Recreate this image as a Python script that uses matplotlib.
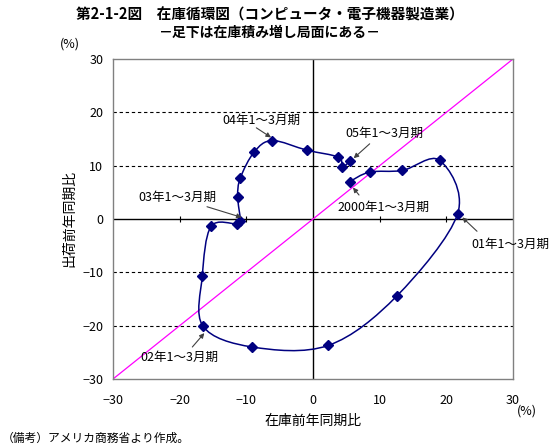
import matplotlib
matplotlib.use('Agg')
import matplotlib.pyplot as plt
from matplotlib.path import Path
from matplotlib.patches import PathPatch
import numpy as np

plt.rcParams['font.family'] = ['Noto Sans CJK JP', 'DejaVu Sans']

# 在庫前年同期比 (x), 出荷前年同期比 (y): 2000年1～3月期 .. 05年1～3月期
inventory = [5.5, 8.5, 13.4, 19.0,
             21.7, 12.6, 2.3, -9.1,
             -16.5, -16.6, -15.3, -11.4,
             -10.9, -11.3, -10.9, -8.8,
             -6.1, -0.9, 3.8, 4.4,
             5.5]
shipments = [7.0, 8.8, 9.1, 11.0,
             1.0, -14.4, -23.7, -24.0,
             -20.1, -10.6, -1.4, -0.9,
             -0.3, 4.2, 7.7, 12.6,
             14.7, 12.9, 11.6, 9.8,
             10.8]
ticks = [-30, -20, -10, 0, 10, 20, 30]
grid_y = [-20, -10, 10, 20]

# label, text position, arrow tail, arrow head
labels = [
    ('2000年1～3月期', (10.6, 2.1), (6.9, 4.5), (6.0, 5.9)),
    ('01年1～3月期', (29.6, -4.7), (24.6, -2.3), (22.4, 0.3)),
    ('02年1～3月期', (-20.0, -25.9), (-18.1, -24.0), (-16.3, -21.4)),
    ('03年1～3月期', (-20.4, 4.1), (-15.9, 2.3), (-10.7, 0.3)),
    ('04年1～3月期', (-7.7, 18.4), (-8.5, 17.1), (-6.3, 15.3)),
    ('05年1～3月期', (10.7, 16.1), (8.5, 14.1), (6.1, 11.4)),
]

fig = plt.figure(figsize=(5.53, 4.47), dpi=100)
ax = fig.add_axes([113/553, 1 - 379/447, 400/553, 320/447])
ax.set_xlim(-30, 30)
ax.set_ylim(-30, 30)

for s in ax.spines.values():
    s.set_color('#808080')
    s.set_linewidth(1.0)

ax.set_xticks(ticks)
ax.set_yticks(ticks)
ax.tick_params(length=0, labelsize=9, pad=7)
ax.tick_params(axis='x', pad=11)

for g in grid_y:
    ax.axhline(g, color='black', lw=0.8, ls=(0, (3, 2.5)), zorder=1)
ax.axhline(0, color='black', lw=1.0, zorder=1)
ax.axvline(0, color='black', lw=1.0, zorder=1)
# small tick marks on the zero lines
tk = [t for t in ticks if t not in (-30, 0, 30)]
ax.plot(tk, [0] * len(tk), ls='none', marker='|', color='black', ms=4, mew=0.8, zorder=1)
ax.plot([0] * len(tk), tk, ls='none', marker='_', color='black', ms=4, mew=0.8, zorder=1)

# 45 degree line
ax.plot([-30, 30], [-30, 30], color='#FF00FF', lw=0.9, zorder=2)

# smoothed line (Catmull-Rom as cubic Bezier)
pts = np.column_stack([inventory, shipments])
n = len(pts)
verts = [pts[0]]
codes = [Path.MOVETO]
for i in range(n - 1):
    p0 = pts[max(i - 1, 0)]
    p1 = pts[i]
    p2 = pts[i + 1]
    p3 = pts[min(i + 2, n - 1)]
    c1 = p1 + (p2 - p0) / 6
    c2 = p2 - (p3 - p1) / 6
    verts += [c1, c2, p2]
    codes += [Path.CURVE4] * 3
ax.add_patch(PathPatch(Path(verts, codes), facecolor='none',
                       edgecolor='#000080', lw=1.1, zorder=3))
ax.plot(inventory, shipments, ls='none', marker='D', ms=5,
        color='#000080', zorder=4)

for text, tpos, tail, head in labels:
    ax.text(tpos[0], tpos[1], text, fontsize=9, ha='center', va='center',
            clip_on=False, zorder=5)
    ax.annotate('', xy=head, xytext=tail,
                arrowprops=dict(arrowstyle='-|>', color='#404040', lw=0.8,
                                mutation_scale=7, shrinkA=0, shrinkB=0),
                zorder=5)

fig.text(70/553, 1 - 44/447, '(%)', fontsize=9, ha='center', va='center')
fig.text(527/553, 1 - 411/447, '(%)', fontsize=9, ha='center', va='center')
fig.text(313/553, 1 - 421/447, '在庫前年同期比', fontsize=10, ha='center', va='center')
fig.text(69/553, 1 - 218/447, '出荷前年同期比', fontsize=10, ha='center', va='center',
         rotation=90)
fig.text(270/553, 1 - 15/447, '第2-1-2図　在庫循環図（コンピュータ・電子機器製造業）',
         fontsize=10.5, fontweight='bold', ha='center', va='center')
fig.text(270/553, 1 - 33/447, '－足下は在庫積み増し局面にある－',
         fontsize=10, fontweight='bold', ha='center', va='center')
fig.text(2/553, 1 - 438/447, '（備考）アメリカ商務省より作成。', fontsize=8.5,
         ha='left', va='center')

fig.savefig('out.png', dpi=100)
